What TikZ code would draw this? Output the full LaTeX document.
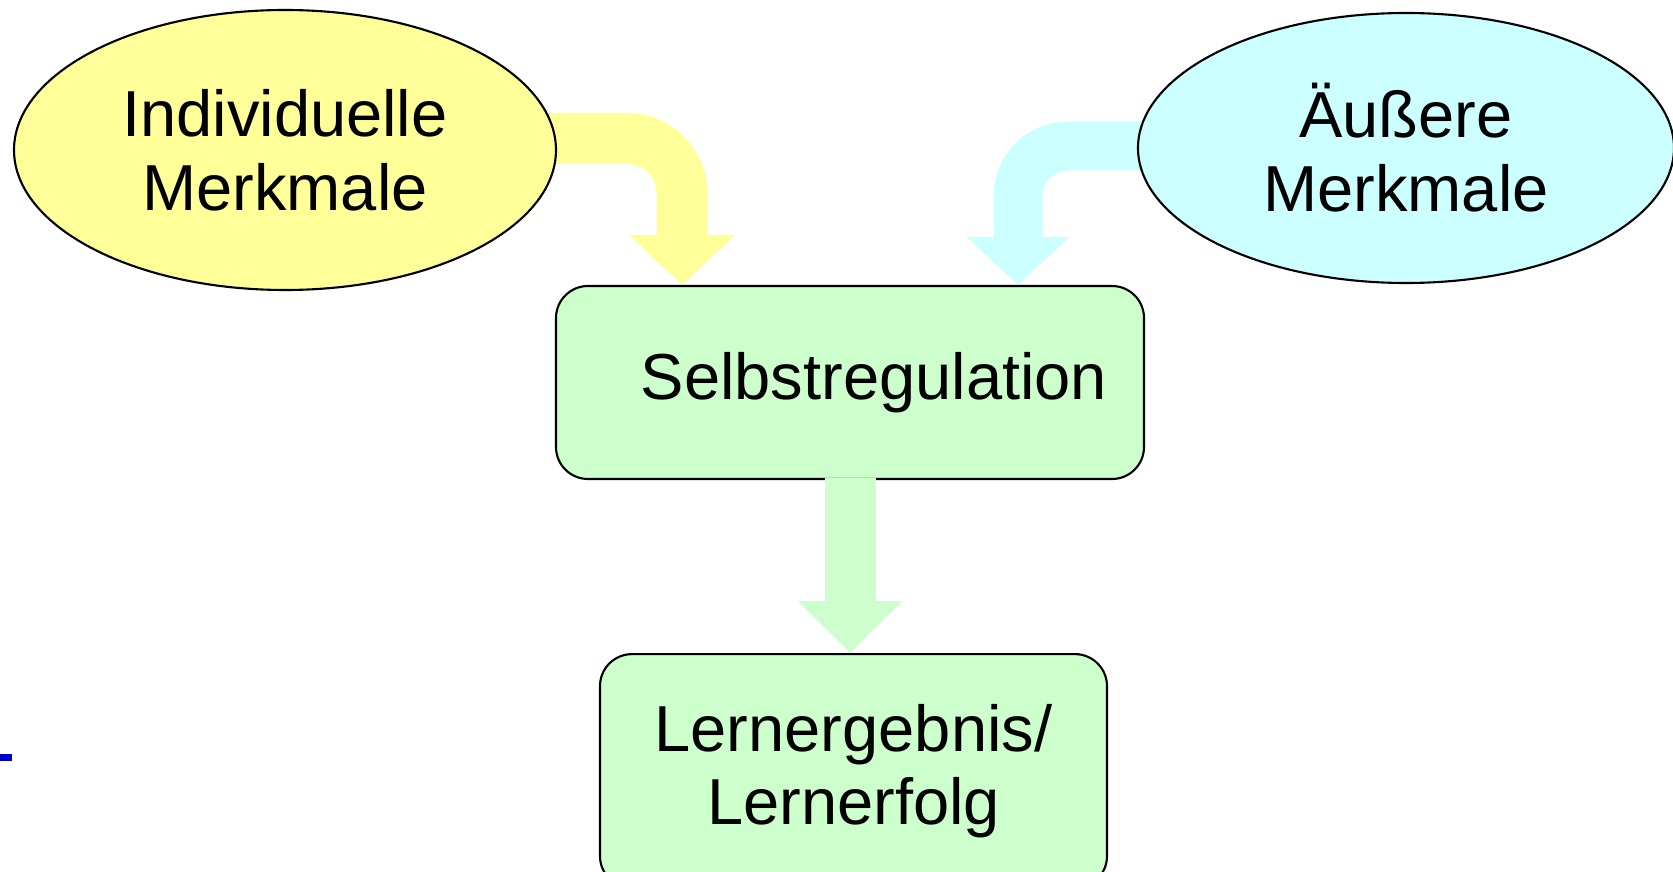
\documentclass[tikz,border=0pt]{standalone}
\usepackage{fontspec}
\setmainfont{Liberation Sans}
\usepackage{xcolor}
\usetikzlibrary{positioning,shapes.geometric,arrows.meta,backgrounds}

\definecolor{gelb}{HTML}{FFFF99}
\definecolor{hellblau}{HTML}{CCFFFF}
\definecolor{hellgruen}{HTML}{CCFFCC}
\definecolor{folienblau}{HTML}{0000CC}

\begin{document}
\begin{tikzpicture}[node distance=2cm, auto,
        merkmal/.style={draw, ellipse, inner sep=0pt, align=center, line width=0.6pt,
            font=\fontsize{18.5}{21}\selectfont},
        kasten/.style={draw, rectangle, rounded corners=0.32cm, align=center, line width=0.6pt,
            fill=hellgruen, font=\fontsize{18.5}{21}\selectfont},
        pfeil/.style={line width=0.51cm, rounded corners=0.55cm,
            -{Triangle[length=0.5cm, width=1.03cm]}}]
        \useasboundingbox (0,0) rectangle (16.73,-8.72);
        \clip (0,0) rectangle (16.73,-8.72);

        % Nodes
        \node [kasten, minimum width=5.88cm, minimum height=1.93cm] (S) at (8.50,-3.825) {\hspace{0.48cm}Selbstregulation};
        \node [kasten, minimum width=5.07cm, minimum height=2.34cm, below=1.73cm of S, xshift=0.035cm] (L) {Lernergebnis/\\Lernerfolg};
        \node [merkmal, fill=gelb, minimum width=5.42cm, minimum height=2.80cm] (I) at (2.85,-1.50) {Individuelle\\Merkmale};
        \node [merkmal, fill=hellblau, minimum width=5.36cm, minimum height=2.70cm] (A) at (14.06,-1.48) {Äußere\\Merkmale};

        % Start points of the bent arrows (inside the ellipses)
        \coordinate (i1) at (5.40,-1.385);
        \coordinate (a1) at (11.60,-1.46);

        % Arrows behind the ellipses
        \begin{scope}[on background layer]
            \draw [pfeil, gelb] (i1) -| ([xshift=-1.68cm]S.north);
            \draw [pfeil, hellblau, line width=0.49cm, rounded corners=0.5cm,
                -{Triangle[length=0.48cm, width=1.0cm]}] (a1) -| ([xshift=1.68cm]S.north);
        \end{scope}
        \draw [pfeil, hellgruen, rounded corners=0pt,
            -{Triangle[length=0.52cm, width=1.01cm]}] ([yshift=0.02cm]S.south) -- (S.south |- L.north);

        % small mark at the left edge
        \fill [folienblau] (0,-7.54) rectangle (0.12,-7.61);
    \end{tikzpicture}
\end{document}
